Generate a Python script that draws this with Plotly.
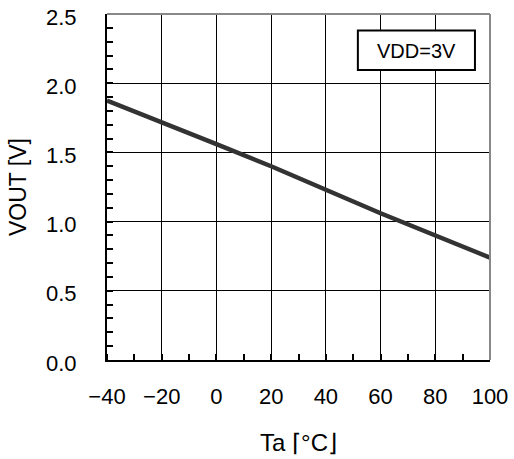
import plotly.graph_objects as go

temps = [-40, -20, 0, 20, 40, 50, 60, 80, 100]
vout = [1.875, 1.72, 1.56, 1.40, 1.225, 1.145, 1.06, 0.90, 0.74]

x_ticks = [-40, -20, 0, 20, 40, 60, 80, 100]
y_ticks = [0.0, 0.5, 1.0, 1.5, 2.0, 2.5]

FONT = "Liberation Sans, Arial, sans-serif"

fig = go.Figure()
fig.add_trace(go.Scatter(x=temps, y=vout, mode="lines",
                         line=dict(color="#333333", width=4.5), showlegend=False))

# y tick labels placed on the y scale
y_labels = [dict(text=f"{v:.1f}", x=0, y=v, xref="paper", yref="y", xanchor="right",
                 yanchor="middle", xshift=-28, yshift=-3, showarrow=False,
                 font=dict(size=22, family=FONT)) for v in y_ticks]

fig.update_layout(
    width=514, height=459,
    margin=dict(l=107, r=24, t=14, b=99, autoexpand=False),
    paper_bgcolor="white", plot_bgcolor="white",
    font=dict(family=FONT, size=22, color="black"),
    xaxis=dict(range=[-40, 100], tickvals=x_ticks, showgrid=True, gridcolor="black", gridwidth=1,
               zeroline=False, showline=True, linecolor="black", linewidth=2, automargin=False,
               ticks="outside", ticklen=16, tickcolor="rgba(0,0,0,0)", tickwidth=1,
               ticklabeloverflow="allow",
               minor=dict(dtick=10, ticks="inside", ticklen=6, tickcolor="black", tickwidth=1.5, showgrid=False),
               title=dict(text="Ta ⌈°C⌋", font=dict(size=24), standoff=26)),
    yaxis=dict(range=[0, 2.5], tickvals=y_ticks, showticklabels=False, showgrid=True, gridcolor="black", gridwidth=1,
               zeroline=False, showline=True, linecolor="black", linewidth=2, automargin=False,
               ticks="inside", ticklen=6, tickcolor="black", tickwidth=1.5,
               minor=dict(dtick=0.1, ticks="inside", ticklen=6, tickcolor="black", tickwidth=1.5, showgrid=False)),
    shapes=[
        dict(type="line", xref="paper", yref="paper", x0=0, x1=1, y0=1, y1=1,
             line=dict(color="#888888", width=2)),
        dict(type="line", xref="paper", yref="paper", x0=1, x1=1, y0=0, y1=1,
             line=dict(color="#888888", width=2)),
        dict(type="rect", xref="x", yref="y", x0=51.7, x1=94.5, y0=2.095, y1=2.38,
             line=dict(color="black", width=2), fillcolor="white", layer="above"),
    ],
    annotations=y_labels + [
        dict(text="VDD=3V", x=73.1, y=2.235, xref="x", yref="y", showarrow=False,
             font=dict(size=20, family=FONT)),
        dict(text="VOUT [V]", x=0, y=0.5, xref="paper", yref="paper", xshift=-89,
             xanchor="center", yanchor="middle", textangle=-90, showarrow=False,
             font=dict(size=23, family=FONT)),
    ],
)

fig.write_html("out.html", config={"displayModeBar": False},
               post_script="document.body.style.margin='0';")
